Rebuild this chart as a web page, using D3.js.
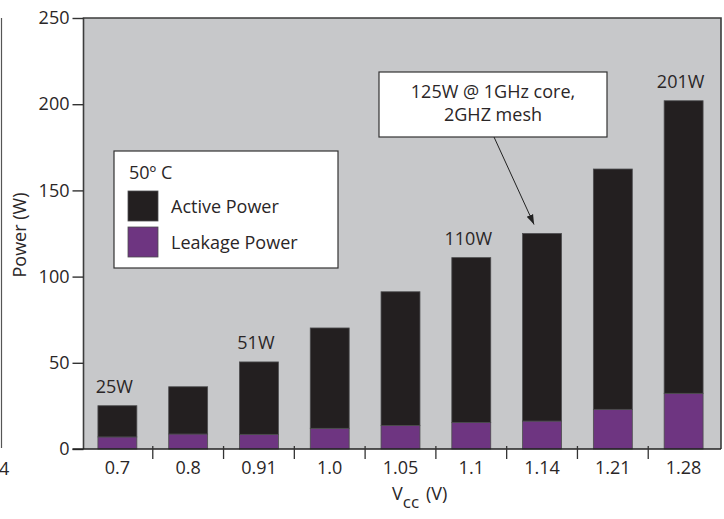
<!DOCTYPE html>
<html><head><meta charset="utf-8">
<script src="https://cdn.jsdelivr.net/npm/d3@7/dist/d3.min.js"></script>
<style>
html,body{margin:0;padding:0;background:#fff;}
svg{display:block;font-family:"Open Sans",sans-serif;}
</style></head>
<body><svg id="chart" width="724" height="519"></svg>
<script>
// ---- data ----
const categories = ["0.7","0.8","0.91","1.0","1.05","1.1","1.14","1.21","1.28"];
const activePower = [18.1, 27.4, 42.0, 58.2, 77.5, 95.6, 108.8, 139.4, 169.7];
const leakagePower = [7.0, 8.7, 8.5, 12.0, 13.7, 15.4, 16.2, 23.0, 32.3];
const yTicks = [0, 50, 100, 150, 200, 250];
const valueLabels = [{cat:"0.7", text:"25W"}, {cat:"0.91", text:"51W"}, {cat:"1.1", text:"110W"}, {cat:"1.28", text:"201W"}];
const legendTitle = "50º C";
const seriesNames = ["Active Power", "Leakage Power"];
const annotationLines = ["125W @ 1GHz core,", "2GHZ mesh"];
const annotationCat = "1.14";

// ---- layout ----
const svg = d3.select("#chart");
const plot = {left: 83.5, right: 721, top: 18, bottom: 449};
const colors = {active: "#231f20", leakage: "#6e3581", bg: "#c7c8ca", frame: "#3c3c3c"};
const textColor = "#2a2627";

const x = d3.scaleBand().domain(categories).range([82, 719]).paddingInner(0.45).paddingOuter(0.225);
const y = d3.scaleLinear().domain([0, 250]).range([plot.bottom, plot.top]);

// background
svg.append("rect").attr("x", plot.left).attr("y", plot.top)
  .attr("width", plot.right - plot.left).attr("height", plot.bottom - plot.top)
  .attr("fill", colors.bg);

// stacked bars
const rows = categories.map((c, i) => ({cat: c, leakage: leakagePower[i], active: activePower[i]}));
const stack = d3.stack().keys(["leakage", "active"])(rows);
const fillFor = {leakage: colors.leakage, active: colors.active};
svg.append("g").selectAll("g").data(stack).join("g")
  .attr("fill", d => fillFor[d.key])
  .selectAll("rect").data(d => d).join("rect")
  .attr("x", d => x(d.data.cat))
  .attr("width", x.bandwidth())
  .attr("y", d => y(d[1]))
  .attr("height", d => y(d[0]) - y(d[1]))
  .attr("stroke", "#4d4d4f").attr("stroke-width", 0.8);

// frame
svg.append("path")
  .attr("d", `M${plot.left},${plot.bottom}V${plot.top}H${plot.right}V${plot.bottom}`)
  .attr("fill", "none").attr("stroke", colors.frame).attr("stroke-width", 1.6);

// y axis
const yAxis = d3.axisLeft(y).tickValues(yTicks).tickSize(11).tickPadding(3).tickFormat(d3.format("d"));
const gy = svg.append("g").attr("transform", `translate(${plot.left},0)`).call(yAxis);
gy.select(".domain").remove();
gy.selectAll(".tick line").attr("stroke", "#333").attr("stroke-width", 1.4);
gy.selectAll(".tick text").attr("font-size", 18).attr("fill", textColor).attr("font-family", "Open Sans");

// x axis: baseline + separator ticks between categories
svg.append("line").attr("x1", plot.left - 11).attr("x2", plot.right)
  .attr("y1", plot.bottom).attr("y2", plot.bottom)
  .attr("stroke", "#222").attr("stroke-width", 1.6);
const step = x.step();
svg.append("g").selectAll("line").data(categories.slice(0, -1)).join("line")
  .attr("x1", d => x(d) + x.bandwidth() + step * x.paddingInner() / 2)
  .attr("x2", d => x(d) + x.bandwidth() + step * x.paddingInner() / 2)
  .attr("y1", plot.bottom - 3).attr("y2", plot.bottom + 10)
  .attr("stroke", "#333").attr("stroke-width", 1.3);
svg.append("g").selectAll("text").data(categories).join("text")
  .attr("x", d => x(d) + x.bandwidth() / 2)
  .attr("y", plot.bottom + 25)
  .attr("text-anchor", "middle").attr("font-size", 18).attr("fill", textColor)
  .text(d => d);

// axis titles
const xt = svg.append("text").attr("x", 392).attr("y", 500).attr("font-size", 18).attr("fill", textColor);
xt.append("tspan").text("V");
xt.append("tspan").attr("font-size", 17).attr("dy", 8).text("cc");
xt.append("tspan").attr("dy", -8).attr("dx", 7).text("(V)");
svg.append("text").attr("transform", "translate(26,235) rotate(-90)")
  .attr("text-anchor", "middle").attr("font-size", 18).attr("fill", textColor)
  .text("Power (W)");

// value labels
const totalOf = c => { const i = categories.indexOf(c); return activePower[i] + leakagePower[i]; };
svg.append("g").selectAll("text").data(valueLabels).join("text")
  .attr("x", d => x(d.cat) + x.bandwidth() / 2 - 3)
  .attr("y", d => y(totalOf(d.cat)) - 13)
  .attr("text-anchor", "middle").attr("font-size", 18).attr("fill", textColor)
  .text(d => d.text);

// legend
const lg = svg.append("g").attr("transform", "translate(114,151)");
lg.append("rect").attr("width", 224).attr("height", 117).attr("fill", "#fff")
  .attr("stroke", "#333").attr("stroke-width", 1.2);
lg.append("text").attr("x", 15).attr("y", 28).attr("font-size", 18).attr("fill", textColor).text(legendTitle);
[colors.active, colors.leakage].forEach((c, i) => {
  lg.append("rect").attr("x", 14).attr("y", 40 + i * 36).attr("width", 30).attr("height", 30)
    .attr("fill", c).attr("stroke", "#4d4d4f").attr("stroke-width", 0.8);
  lg.append("text").attr("x", 57).attr("y", 62 + i * 36).attr("font-size", 18)
    .attr("fill", textColor).text(seriesNames[i]);
});

// annotation
const ann = svg.append("g");
ann.append("rect").attr("x", 379).attr("y", 72).attr("width", 228).attr("height", 65)
  .attr("fill", "#fff").attr("stroke", "#333").attr("stroke-width", 1.2);
annotationLines.forEach((t, i) => {
  ann.append("text").attr("x", 493).attr("y", 98 + i * 23).attr("text-anchor", "middle")
    .attr("font-size", 18).attr("fill", textColor).text(t);
});
svg.append("defs").append("marker").attr("id", "arr").attr("viewBox", "0 0 10 10")
  .attr("refX", 10).attr("refY", 5).attr("markerWidth", 10).attr("markerHeight", 10)
  .attr("markerUnits", "userSpaceOnUse").attr("orient", "auto")
  .append("path").attr("d", "M0,1.5L10,5L0,8.5z").attr("fill", "#222");
const tipX = x(annotationCat) + x.bandwidth() / 2 - 8;
const tipY = y(totalOf(annotationCat)) - 9;
ann.append("line").attr("x1", 494).attr("y1", 137).attr("x2", tipX).attr("y2", tipY)
  .attr("stroke", "#222").attr("stroke-width", 1).attr("marker-end", "url(#arr)");

// page-edge artifact on the left
svg.append("line").attr("x1", 1.5).attr("x2", 1.5).attr("y1", 18).attr("y2", 448)
  .attr("stroke", "#555").attr("stroke-width", 1.2);
svg.append("text").attr("x", -1).attr("y", 475).attr("font-size", 18).attr("fill", textColor).text("4");
</script></body></html>
